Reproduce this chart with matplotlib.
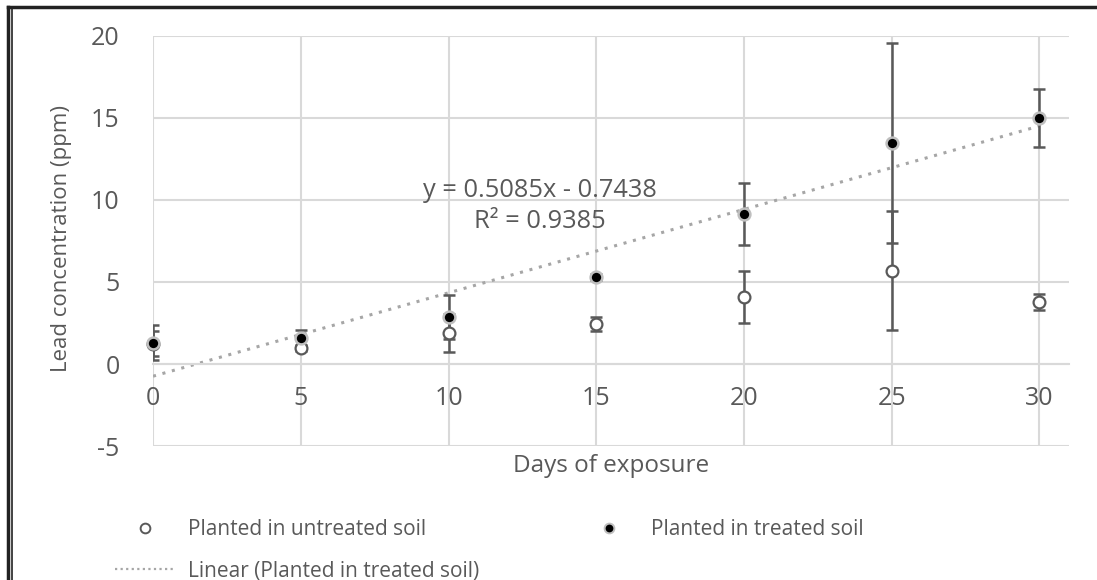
import matplotlib.pyplot as plt
from matplotlib.lines import Line2D
import numpy as np

plt.rcParams['font.family'] = ['Open Sans', 'DejaVu Sans']
plt.rcParams['axes.unicode_minus'] = False

# Datos
dias = [0, 5, 10, 15, 20, 25, 30]
sin_tratar = [1.25, 0.98, 1.9, 2.44, 4.1, 5.7, 3.78]
sin_tratar_err = [0.75, 0.2, 1.17, 0.45, 1.6, 3.6, 0.5]
tratado = [1.3, 1.58, 2.87, 5.3, 9.15, 13.5, 15.0]
tratado_err = [1.05, 0.5, 1.33, 0.2, 1.9, 6.1, 1.75]

# Tendencia lineal (de la ecuación mostrada)
pendiente = 0.5085
intercepto = -0.7438
r2 = 0.9385

gris = '#595959'

fig = plt.figure(figsize=(10.97, 5.80), dpi=100)
ax = fig.add_axes([0.1395, 0.231, 0.835, 0.707])

# Barras de error
ax.errorbar(dias, sin_tratar, yerr=sin_tratar_err, fmt='none', ecolor=gris,
            elinewidth=1.8, capsize=4, capthick=1.8, zorder=3)
ax.errorbar(dias, tratado, yerr=tratado_err, fmt='none', ecolor=gris,
            elinewidth=1.8, capsize=4, capthick=1.8, zorder=3)

# Línea de tendencia
xt = np.array([dias[0], dias[-1]])
ax.plot(xt, pendiente * xt + intercepto, linestyle=(0, (1, 2.2)), color='#A6A6A6',
        linewidth=2.2, zorder=2)

# Puntos
ax.plot(dias, sin_tratar, 'o', markersize=8.5, markerfacecolor='white',
        markeredgecolor=gris, markeredgewidth=1.6, clip_on=False, zorder=4)
ax.plot(dias, tratado, 'o', markersize=8.5, markerfacecolor='black',
        markeredgecolor='#BFBFBF', markeredgewidth=1.8, clip_on=False, zorder=5)

ax.set_xlim(0, 31)
ax.set_ylim(-5, 20)
ax.set_xticks([0, 5, 10, 15, 20, 25, 30])
ax.set_yticks([-5, 0, 5, 10, 15, 20])
ax.grid(True, color='#D9D9D9', linewidth=1.5)
ax.set_axisbelow(True)
for s in ['top', 'right', 'left']:
    ax.spines[s].set_visible(False)
ax.spines['bottom'].set_position(('data', 0))
ax.spines['bottom'].set_color('#D9D9D9')
ax.spines['bottom'].set_linewidth(1.5)
ax.tick_params(axis='both', length=0, colors='#595959', labelsize=18)
ax.tick_params(axis='x', pad=16)
ax.tick_params(axis='y', pad=24)

ax.text(13.1, 10.55, 'y = 0.5085x - 0.7438', fontsize=18.3, color='#595959',
        ha='center', va='center')
ax.text(13.1, 8.7, 'R² = ' + str(r2), fontsize=18.3, color='#595959',
        ha='center', va='center')

fig.text(0.0565, 0.588, 'Lead concentration (ppm)', rotation=90, fontsize=16,
         color='#595959', ha='center', va='center')
fig.text(0.557, 0.197, 'Days of exposure', fontsize=17.5, color='#595959',
         ha='center', va='center')

# Leyenda
h1 = Line2D([], [], marker='o', linestyle='none', markersize=7, markerfacecolor='white',
            markeredgecolor=gris, markeredgewidth=1.4)
h2 = Line2D([], [], marker='o', linestyle='none', markersize=7, markerfacecolor='black',
            markeredgecolor='#BFBFBF', markeredgewidth=1.4)
h3 = Line2D([], [], linestyle=(0, (1, 1.5)), color='#A6A6A6', linewidth=1.6)
fig.legend([h1, h3, h2],
           ['Planted in untreated soil', 'Linear (Planted in treated soil)',
            'Planted in treated soil'],
           ncol=2, loc='upper left', bbox_to_anchor=(0.105, 0.105), frameon=False,
           fontsize=15, labelcolor='#595959', handlelength=2.9, handletextpad=0.58,
           columnspacing=4.8, labelspacing=0.99, borderaxespad=0, borderpad=0)

# Marco de la figura
fig.add_artist(Line2D([0.007, 1.0], [0.988, 0.988], color='#222222', linewidth=2.5))
fig.add_artist(Line2D([0.007, 0.007], [0.0, 0.988], color='#222222', linewidth=2.5))
fig.add_artist(Line2D([0.0105, 0.0105], [0.0, 0.985], color='#222222', linewidth=1.2))

plt.savefig('out.png', dpi=100)
